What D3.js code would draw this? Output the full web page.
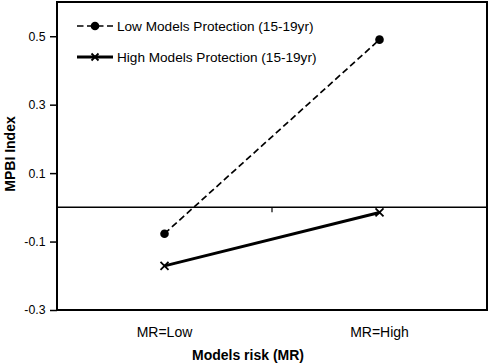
<!DOCTYPE html>
<html>
<head>
<meta charset="utf-8">
<script src="https://cdn.jsdelivr.net/npm/d3@7"></script>
<style>
  body { margin: 0; background: #fff; }
  text { font-family: "Liberation Sans", Arial, sans-serif; }
</style>
</head>
<body>
<div id="chart"></div>
<script>
// data
const categories = ["MR=Low", "MR=High"];
const seriesNames = ["Low Models Protection (15-19yr)", "High Models Protection (15-19yr)"];
const lowProtection = [-0.077, 0.49];
const highProtection = [-0.171, -0.015];
const yTicks = [0.5, 0.3, 0.1, -0.1, -0.3];

const W = 490, H = 364;
const margin = {top: 2, right: 3, bottom: 54, left: 57};
const width = W - margin.left - margin.right;
const height = H - margin.top - margin.bottom;

const svg = d3.select("#chart").append("svg")
    .attr("width", W)
    .attr("height", H);

const g = svg.append("g")
    .attr("transform", "translate(" + margin.left + "," + margin.top + ")");

// scales
const x = d3.scaleBand().domain(categories).range([0, width]);
const y = d3.scaleLinear().domain([-0.3, 0.6]).range([height, 0]);

// y axis
const yAxis = g.append("g")
    .call(d3.axisLeft(y).tickValues(yTicks).tickSizeOuter(0).tickSize(7).tickPadding(4.5));
yAxis.select(".domain").remove();
yAxis.selectAll("line").attr("stroke-width", 1.5);
yAxis.selectAll("text").attr("font-size", 12.3).attr("fill", "#000")
    .style("font-family", "'Liberation Sans', Arial, sans-serif")
    .text(d => d.toFixed(1));

// zero line with middle tick
g.append("line")
    .attr("x1", 0).attr("x2", width)
    .attr("y1", y(0)).attr("y2", y(0))
    .attr("stroke", "#000").attr("stroke-width", 1.5);
g.append("line")
    .attr("x1", x.step()).attr("x2", x.step())
    .attr("y1", y(0)).attr("y2", y(0) + 5)
    .attr("stroke", "#000").attr("stroke-width", 1.2);

// category labels
g.selectAll(".cat")
    .data(categories)
    .enter().append("text")
    .attr("class", "cat")
    .attr("x", d => x(d) + x.bandwidth() / 2)
    .attr("y", height + 27)
    .attr("text-anchor", "middle")
    .attr("font-size", 14)
    .text(d => d);

// frame
g.append("rect")
    .attr("width", width).attr("height", height)
    .attr("fill", "none").attr("stroke", "#000").attr("stroke-width", 2);

// axis titles
svg.append("text")
    .attr("x", 248)
    .attr("y", H - 4)
    .attr("text-anchor", "middle")
    .attr("font-size", 14).attr("font-weight", "bold")
    .text("Models risk (MR)");

svg.append("text")
    .attr("transform", "translate(15," + (margin.top + height / 2 - 2) + ") rotate(-90)")
    .attr("text-anchor", "middle")
    .attr("font-size", 14).attr("font-weight", "bold")
    .text("MPBI Index");

// lines
const line = d3.line()
    .x((d, i) => x(categories[i]) + x.bandwidth() / 2)
    .y(d => y(d));

g.append("path")
    .datum(lowProtection)
    .attr("fill", "none").attr("stroke", "#000")
    .attr("stroke-width", 1.7).attr("stroke-dasharray", "6.5,3.5")
    .attr("d", line);

g.append("path")
    .datum(highProtection)
    .attr("fill", "none").attr("stroke", "#000")
    .attr("stroke-width", 3)
    .attr("d", line);

// markers
g.selectAll(".dot")
    .data(lowProtection)
    .enter().append("circle")
    .attr("cx", (d, i) => x(categories[i]) + x.bandwidth() / 2)
    .attr("cy", d => y(d))
    .attr("r", 4.3).attr("fill", "#000");

g.selectAll(".cross")
    .data(highProtection)
    .enter().append("path")
    .attr("transform", (d, i) => "translate(" + (x(categories[i]) + x.bandwidth() / 2) + "," + y(d) + ")")
    .attr("d", "M-4,-4L4,4M-4,4L4,-4")
    .attr("stroke", "#000").attr("stroke-width", 1.8).attr("fill", "none");

// legend
const legend = svg.append("g").attr("transform", "translate(77,26)");
const legItems = legend.selectAll("g")
    .data(seriesNames)
    .enter().append("g")
    .attr("transform", (d, i) => "translate(0," + i * 31 + ")");

legItems.append("line")
    .attr("x1", 0).attr("x2", 36).attr("y1", 0).attr("y2", 0)
    .attr("stroke", "#000")
    .attr("stroke-width", (d, i) => i === 0 ? 1.7 : 3)
    .attr("stroke-dasharray", (d, i) => i === 0 ? "6.5,3.5" : null);

legItems.filter((d, i) => i === 0).append("circle")
    .attr("cx", 18).attr("cy", 0).attr("r", 4.3).attr("fill", "#000");
legItems.filter((d, i) => i === 1).append("path")
    .attr("transform", "translate(18,0)")
    .attr("d", "M-3.5,-3.5L3.5,3.5M-3.5,3.5L3.5,-3.5")
    .attr("stroke", "#000").attr("stroke-width", 1.8);

legItems.append("text")
    .attr("x", 40).attr("y", 5)
    .attr("font-size", 13.6)
    .text(d => d);
</script>
</body>
</html>
